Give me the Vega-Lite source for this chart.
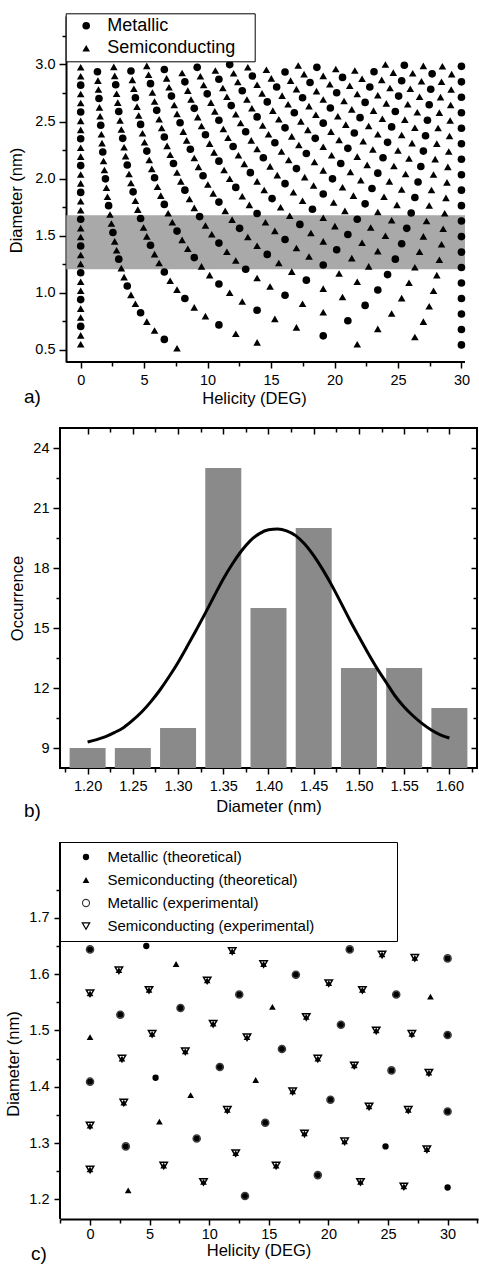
{
"$schema": "https://vega.github.io/schema/vega-lite/v6.json",
"padding": {"left": 5, "top": 12, "right": 0, "bottom": 0},
"background": "white",
"bounds": "flush",
"spacing": 66,
"resolve": {"scale": {"shape": "independent", "fill": "independent", "stroke": "independent", "size": "independent"}, "legend": {"shape": "independent", "fill": "independent", "stroke": "independent", "size": "independent"}},
"config": {
 "font": "Liberation Sans",
 "view": {"stroke": null},
 "axis": {"labelFont": "Liberation Sans", "labelFontSize": 14.5, "labelColor": "black", "titleFont": "Liberation Sans", "titleFontSize": 16.5, "titleFontWeight": "normal", "titleColor": "black", "domainColor": "black", "domainWidth": 2, "tickColor": "black", "tickWidth": 1.5, "grid": false, "labelFlush": false, "labelOverlap": false}
},
"datasets": {
 "band": [{"lo": 1.205, "hi": 1.68}],
 "bars": [{"dia":1.2,"n":9},{"dia":1.25,"n":9},{"dia":1.3,"n":10},{"dia":1.35,"n":23},{"dia":1.4,"n":16},{"dia":1.45,"n":20},{"dia":1.5,"n":13},{"dia":1.55,"n":13},{"dia":1.6,"n":11}],
 "fit": [{"dia":1.2,"n":9.3},{"dia":1.21,"n":9.42},{"dia":1.22,"n":9.57},{"dia":1.23,"n":9.78},{"dia":1.24,"n":10.03},{"dia":1.25,"n":10.39},{"dia":1.26,"n":10.81},{"dia":1.27,"n":11.32},{"dia":1.28,"n":11.9},{"dia":1.29,"n":12.56},{"dia":1.3,"n":13.28},{"dia":1.31,"n":14.07},{"dia":1.32,"n":14.89},{"dia":1.33,"n":15.73},{"dia":1.34,"n":16.6},{"dia":1.35,"n":17.45},{"dia":1.36,"n":18.2},{"dia":1.37,"n":18.85},{"dia":1.38,"n":19.37},{"dia":1.39,"n":19.72},{"dia":1.4,"n":19.91},{"dia":1.41,"n":19.95},{"dia":1.42,"n":19.86},{"dia":1.43,"n":19.62},{"dia":1.44,"n":19.2},{"dia":1.45,"n":18.62},{"dia":1.46,"n":17.92},{"dia":1.47,"n":17.13},{"dia":1.48,"n":16.27},{"dia":1.49,"n":15.39},{"dia":1.5,"n":14.56},{"dia":1.51,"n":13.75},{"dia":1.52,"n":12.98},{"dia":1.53,"n":12.29},{"dia":1.54,"n":11.6},{"dia":1.55,"n":11.05},{"dia":1.56,"n":10.6},{"dia":1.57,"n":10.22},{"dia":1.58,"n":9.9},{"dia":1.59,"n":9.66},{"dia":1.6,"n":9.5}],
 "pa": [
{"h":0,"d":0.548,"t":"S"},{"h":0,"d":0.626,"t":"S"},{"h":0,"d":0.705,"t":"M"},{"h":0,"d":0.783,"t":"S"},{"h":0,"d":0.861,"t":"S"},{"h":0,"d":0.94,"t":"M"},{"h":0,"d":1.018,"t":"S"},{"h":0,"d":1.096,"t":"S"},{"h":0,"d":1.175,"t":"M"},{"h":0,"d":1.253,"t":"S"},{"h":0,"d":1.331,"t":"S"},{"h":0,"d":1.409,"t":"M"},{"h":0,"d":1.488,"t":"S"},{"h":0,"d":1.566,"t":"S"},{"h":0,"d":1.644,"t":"M"},{"h":0,"d":1.723,"t":"S"},{"h":0,"d":1.801,"t":"S"},{"h":0,"d":1.879,"t":"M"},{"h":0,"d":1.958,"t":"S"},{"h":0,"d":2.036,"t":"S"},{"h":0,"d":2.114,"t":"M"},{"h":0,"d":2.193,"t":"S"},{"h":0,"d":2.271,"t":"S"},{"h":0,"d":2.349,"t":"M"},{"h":0,"d":2.427,"t":"S"},{"h":0,"d":2.506,"t":"S"},{"h":0,"d":2.584,"t":"M"},{"h":0,"d":2.662,"t":"S"},{"h":0,"d":2.741,"t":"S"},{"h":0,"d":2.819,"t":"M"},{"h":0,"d":2.897,"t":"S"},{"h":0,"d":2.976,"t":"S"},
{"h":7.59,"d":0.514,"t":"S"},{"h":6.59,"d":0.591,"t":"M"},{"h":5.82,"d":0.669,"t":"S"},{"h":5.21,"d":0.747,"t":"S"},{"h":4.72,"d":0.825,"t":"M"},{"h":4.31,"d":0.903,"t":"S"},{"h":3.96,"d":0.981,"t":"S"},{"h":3.67,"d":1.059,"t":"M"},{"h":3.42,"d":1.137,"t":"S"},{"h":3.2,"d":1.216,"t":"S"},{"h":3,"d":1.294,"t":"M"},{"h":2.83,"d":1.372,"t":"S"},{"h":2.68,"d":1.45,"t":"S"},{"h":2.54,"d":1.528,"t":"M"},{"h":2.42,"d":1.607,"t":"S"},{"h":2.31,"d":1.685,"t":"S"},{"h":2.2,"d":1.763,"t":"M"},{"h":2.11,"d":1.841,"t":"S"},{"h":2.03,"d":1.92,"t":"S"},{"h":1.95,"d":1.998,"t":"M"},{"h":1.87,"d":2.076,"t":"S"},{"h":1.8,"d":2.154,"t":"S"},{"h":1.74,"d":2.233,"t":"M"},{"h":1.68,"d":2.311,"t":"S"},{"h":1.63,"d":2.389,"t":"S"},{"h":1.58,"d":2.468,"t":"M"},{"h":1.53,"d":2.546,"t":"S"},{"h":1.48,"d":2.624,"t":"S"},{"h":1.44,"d":2.702,"t":"M"},{"h":1.4,"d":2.781,"t":"S"},{"h":1.36,"d":2.859,"t":"S"},{"h":1.32,"d":2.937,"t":"M"},
{"h":13.9,"d":0.565,"t":"S"},{"h":12.22,"d":0.641,"t":"S"},{"h":10.89,"d":0.718,"t":"M"},{"h":9.83,"d":0.795,"t":"S"},{"h":8.95,"d":0.872,"t":"S"},{"h":8.21,"d":0.949,"t":"M"},{"h":7.59,"d":1.027,"t":"S"},{"h":7.05,"d":1.105,"t":"S"},{"h":6.59,"d":1.182,"t":"M"},{"h":6.18,"d":1.26,"t":"S"},{"h":5.82,"d":1.338,"t":"S"},{"h":5.5,"d":1.416,"t":"M"},{"h":5.21,"d":1.494,"t":"S"},{"h":4.95,"d":1.572,"t":"S"},{"h":4.72,"d":1.65,"t":"M"},{"h":4.5,"d":1.728,"t":"S"},{"h":4.31,"d":1.806,"t":"S"},{"h":4.13,"d":1.884,"t":"M"},{"h":3.96,"d":1.962,"t":"S"},{"h":3.81,"d":2.04,"t":"S"},{"h":3.67,"d":2.119,"t":"M"},{"h":3.54,"d":2.197,"t":"S"},{"h":3.42,"d":2.275,"t":"S"},{"h":3.31,"d":2.353,"t":"M"},{"h":3.2,"d":2.431,"t":"S"},{"h":3.1,"d":2.509,"t":"S"},{"h":3,"d":2.588,"t":"M"},{"h":2.92,"d":2.666,"t":"S"},{"h":2.83,"d":2.744,"t":"S"},{"h":2.76,"d":2.822,"t":"M"},{"h":2.68,"d":2.9,"t":"S"},{"h":2.61,"d":2.979,"t":"S"},
{"h":21.79,"d":0.548,"t":"S"},{"h":19.11,"d":0.622,"t":"M"},{"h":17,"d":0.696,"t":"S"},{"h":15.3,"d":0.771,"t":"S"},{"h":13.9,"d":0.847,"t":"M"},{"h":12.73,"d":0.923,"t":"S"},{"h":11.74,"d":1.0,"t":"S"},{"h":10.89,"d":1.077,"t":"M"},{"h":10.16,"d":1.154,"t":"S"},{"h":9.52,"d":1.231,"t":"S"},{"h":8.95,"d":1.308,"t":"M"},{"h":8.44,"d":1.385,"t":"S"},{"h":7.99,"d":1.463,"t":"S"},{"h":7.59,"d":1.54,"t":"M"},{"h":7.22,"d":1.618,"t":"S"},{"h":6.89,"d":1.696,"t":"S"},{"h":6.59,"d":1.774,"t":"M"},{"h":6.31,"d":1.851,"t":"S"},{"h":6.05,"d":1.929,"t":"S"},{"h":5.82,"d":2.007,"t":"M"},{"h":5.6,"d":2.085,"t":"S"},{"h":5.4,"d":2.163,"t":"S"},{"h":5.21,"d":2.241,"t":"M"},{"h":5.03,"d":2.319,"t":"S"},{"h":4.87,"d":2.397,"t":"S"},{"h":4.72,"d":2.475,"t":"M"},{"h":4.57,"d":2.553,"t":"S"},{"h":4.44,"d":2.631,"t":"S"},{"h":4.31,"d":2.709,"t":"M"},{"h":4.19,"d":2.787,"t":"S"},{"h":4.07,"d":2.865,"t":"S"},{"h":3.96,"d":2.943,"t":"M"},
{"h":30,"d":0.543,"t":"M"},{"h":26.33,"d":0.612,"t":"S"},{"h":23.41,"d":0.683,"t":"S"},{"h":21.05,"d":0.755,"t":"M"},{"h":19.11,"d":0.829,"t":"S"},{"h":17.48,"d":0.903,"t":"S"},{"h":16.1,"d":0.978,"t":"M"},{"h":14.92,"d":1.054,"t":"S"},{"h":13.9,"d":1.129,"t":"S"},{"h":13,"d":1.206,"t":"M"},{"h":12.22,"d":1.282,"t":"S"},{"h":11.52,"d":1.359,"t":"S"},{"h":10.89,"d":1.435,"t":"M"},{"h":10.33,"d":1.512,"t":"S"},{"h":9.83,"d":1.589,"t":"S"},{"h":9.37,"d":1.667,"t":"M"},{"h":8.95,"d":1.744,"t":"S"},{"h":8.57,"d":1.821,"t":"S"},{"h":8.21,"d":1.899,"t":"M"},{"h":7.89,"d":1.976,"t":"S"},{"h":7.59,"d":2.054,"t":"S"},{"h":7.31,"d":2.132,"t":"M"},{"h":7.05,"d":2.209,"t":"S"},{"h":6.81,"d":2.287,"t":"S"},{"h":6.59,"d":2.365,"t":"M"},{"h":6.38,"d":2.443,"t":"S"},{"h":6.18,"d":2.52,"t":"S"},{"h":5.99,"d":2.598,"t":"M"},{"h":5.82,"d":2.676,"t":"S"},{"h":5.65,"d":2.754,"t":"S"},{"h":5.5,"d":2.832,"t":"M"},{"h":5.35,"d":2.91,"t":"S"},{"h":5.21,"d":2.988,"t":"S"},
{"h":30,"d":0.678,"t":"M"},{"h":27,"d":0.747,"t":"S"},{"h":24.5,"d":0.818,"t":"S"},{"h":22.41,"d":0.889,"t":"M"},{"h":20.63,"d":0.962,"t":"S"},{"h":19.11,"d":1.036,"t":"S"},{"h":17.78,"d":1.11,"t":"M"},{"h":16.63,"d":1.185,"t":"S"},{"h":15.61,"d":1.26,"t":"S"},{"h":14.7,"d":1.336,"t":"M"},{"h":13.9,"d":1.412,"t":"S"},{"h":13.17,"d":1.488,"t":"S"},{"h":12.52,"d":1.564,"t":"M"},{"h":11.93,"d":1.641,"t":"S"},{"h":11.39,"d":1.717,"t":"S"},{"h":10.89,"d":1.794,"t":"M"},{"h":10.44,"d":1.871,"t":"S"},{"h":10.02,"d":1.948,"t":"S"},{"h":9.64,"d":2.025,"t":"M"},{"h":9.28,"d":2.103,"t":"S"},{"h":8.95,"d":2.18,"t":"S"},{"h":8.64,"d":2.257,"t":"M"},{"h":8.35,"d":2.335,"t":"S"},{"h":8.08,"d":2.412,"t":"S"},{"h":7.83,"d":2.49,"t":"M"},{"h":7.59,"d":2.567,"t":"S"},{"h":7.37,"d":2.645,"t":"S"},{"h":7.15,"d":2.723,"t":"M"},{"h":6.96,"d":2.8,"t":"S"},{"h":6.77,"d":2.878,"t":"S"},{"h":6.59,"d":2.956,"t":"M"},
{"h":30,"d":0.814,"t":"M"},{"h":27.46,"d":0.882,"t":"S"},{"h":25.29,"d":0.953,"t":"S"},{"h":23.41,"d":1.024,"t":"M"},{"h":21.79,"d":1.096,"t":"S"},{"h":20.36,"d":1.169,"t":"S"},{"h":19.11,"d":1.243,"t":"M"},{"h":17.99,"d":1.317,"t":"S"},{"h":17,"d":1.392,"t":"S"},{"h":16.1,"d":1.467,"t":"M"},{"h":15.3,"d":1.542,"t":"S"},{"h":14.56,"d":1.618,"t":"S"},{"h":13.9,"d":1.694,"t":"M"},{"h":13.29,"d":1.77,"t":"S"},{"h":12.73,"d":1.846,"t":"S"},{"h":12.22,"d":1.923,"t":"M"},{"h":11.74,"d":1.999,"t":"S"},{"h":11.3,"d":2.076,"t":"S"},{"h":10.89,"d":2.153,"t":"M"},{"h":10.51,"d":2.23,"t":"S"},{"h":10.16,"d":2.307,"t":"S"},{"h":9.83,"d":2.384,"t":"M"},{"h":9.52,"d":2.461,"t":"S"},{"h":9.22,"d":2.539,"t":"S"},{"h":8.95,"d":2.616,"t":"M"},{"h":8.69,"d":2.693,"t":"S"},{"h":8.44,"d":2.771,"t":"S"},{"h":8.21,"d":2.848,"t":"M"},{"h":7.99,"d":2.926,"t":"S"},
{"h":30,"d":0.949,"t":"M"},{"h":27.8,"d":1.018,"t":"S"},{"h":25.87,"d":1.088,"t":"S"},{"h":24.18,"d":1.159,"t":"M"},{"h":22.69,"d":1.231,"t":"S"},{"h":21.36,"d":1.303,"t":"S"},{"h":20.17,"d":1.377,"t":"M"},{"h":19.11,"d":1.45,"t":"S"},{"h":18.14,"d":1.524,"t":"S"},{"h":17.27,"d":1.599,"t":"M"},{"h":16.47,"d":1.674,"t":"S"},{"h":15.75,"d":1.749,"t":"S"},{"h":15.08,"d":1.825,"t":"M"},{"h":14.46,"d":1.9,"t":"S"},{"h":13.9,"d":1.976,"t":"S"},{"h":13.37,"d":2.052,"t":"M"},{"h":12.89,"d":2.129,"t":"S"},{"h":12.43,"d":2.205,"t":"S"},{"h":12.01,"d":2.282,"t":"M"},{"h":11.61,"d":2.358,"t":"S"},{"h":11.24,"d":2.435,"t":"S"},{"h":10.89,"d":2.512,"t":"M"},{"h":10.57,"d":2.589,"t":"S"},{"h":10.26,"d":2.666,"t":"S"},{"h":9.97,"d":2.743,"t":"M"},{"h":9.69,"d":2.82,"t":"S"},{"h":9.43,"d":2.897,"t":"S"},{"h":9.18,"d":2.975,"t":"M"},
{"h":30,"d":1.085,"t":"M"},{"h":28.06,"d":1.154,"t":"S"},{"h":26.33,"d":1.223,"t":"S"},{"h":24.79,"d":1.294,"t":"M"},{"h":23.41,"d":1.365,"t":"S"},{"h":22.17,"d":1.438,"t":"S"},{"h":21.05,"d":1.51,"t":"M"},{"h":20.03,"d":1.584,"t":"S"},{"h":19.11,"d":1.657,"t":"S"},{"h":18.26,"d":1.732,"t":"M"},{"h":17.48,"d":1.806,"t":"S"},{"h":16.76,"d":1.881,"t":"S"},{"h":16.1,"d":1.956,"t":"M"},{"h":15.49,"d":2.031,"t":"S"},{"h":14.92,"d":2.107,"t":"S"},{"h":14.39,"d":2.183,"t":"M"},{"h":13.9,"d":2.259,"t":"S"},{"h":13.44,"d":2.335,"t":"S"},{"h":13,"d":2.411,"t":"M"},{"h":12.6,"d":2.487,"t":"S"},{"h":12.22,"d":2.564,"t":"S"},{"h":11.86,"d":2.64,"t":"M"},{"h":11.52,"d":2.717,"t":"S"},{"h":11.2,"d":2.794,"t":"S"},{"h":10.89,"d":2.871,"t":"M"},{"h":10.61,"d":2.948,"t":"S"},
{"h":30,"d":1.221,"t":"M"},{"h":28.26,"d":1.289,"t":"S"},{"h":26.7,"d":1.359,"t":"S"},{"h":25.29,"d":1.429,"t":"M"},{"h":24.01,"d":1.5,"t":"S"},{"h":22.85,"d":1.572,"t":"S"},{"h":21.79,"d":1.644,"t":"M"},{"h":20.82,"d":1.717,"t":"S"},{"h":19.93,"d":1.791,"t":"S"},{"h":19.11,"d":1.865,"t":"M"},{"h":18.35,"d":1.939,"t":"S"},{"h":17.65,"d":2.013,"t":"S"},{"h":17,"d":2.088,"t":"M"},{"h":16.39,"d":2.163,"t":"S"},{"h":15.82,"d":2.238,"t":"S"},{"h":15.3,"d":2.314,"t":"M"},{"h":14.8,"d":2.389,"t":"S"},{"h":14.34,"d":2.465,"t":"S"},{"h":13.9,"d":2.541,"t":"M"},{"h":13.49,"d":2.617,"t":"S"},{"h":13.1,"d":2.693,"t":"S"},{"h":12.73,"d":2.77,"t":"M"},{"h":12.38,"d":2.846,"t":"S"},{"h":12.05,"d":2.923,"t":"S"},{"h":11.74,"d":2.999,"t":"M"},
{"h":30,"d":1.356,"t":"M"},{"h":28.43,"d":1.425,"t":"S"},{"h":27,"d":1.494,"t":"S"},{"h":25.69,"d":1.564,"t":"M"},{"h":24.5,"d":1.635,"t":"S"},{"h":23.41,"d":1.707,"t":"S"},{"h":22.41,"d":1.779,"t":"M"},{"h":21.49,"d":1.851,"t":"S"},{"h":20.63,"d":1.924,"t":"S"},{"h":19.84,"d":1.998,"t":"M"},{"h":19.11,"d":2.072,"t":"S"},{"h":18.42,"d":2.146,"t":"S"},{"h":17.78,"d":2.22,"t":"M"},{"h":17.19,"d":2.295,"t":"S"},{"h":16.63,"d":2.37,"t":"S"},{"h":16.1,"d":2.445,"t":"M"},{"h":15.61,"d":2.52,"t":"S"},{"h":15.14,"d":2.596,"t":"S"},{"h":14.7,"d":2.672,"t":"M"},{"h":14.29,"d":2.747,"t":"S"},{"h":13.9,"d":2.823,"t":"S"},{"h":13.53,"d":2.899,"t":"M"},{"h":13.17,"d":2.976,"t":"S"},
{"h":30,"d":1.492,"t":"M"},{"h":28.56,"d":1.56,"t":"S"},{"h":27.25,"d":1.629,"t":"S"},{"h":26.04,"d":1.699,"t":"M"},{"h":24.92,"d":1.77,"t":"S"},{"h":23.9,"d":1.841,"t":"S"},{"h":22.95,"d":1.913,"t":"M"},{"h":22.07,"d":1.986,"t":"S"},{"h":21.25,"d":2.058,"t":"S"},{"h":20.49,"d":2.132,"t":"M"},{"h":19.77,"d":2.205,"t":"S"},{"h":19.11,"d":2.279,"t":"S"},{"h":18.48,"d":2.353,"t":"M"},{"h":17.9,"d":2.427,"t":"S"},{"h":17.35,"d":2.502,"t":"S"},{"h":16.83,"d":2.577,"t":"M"},{"h":16.34,"d":2.652,"t":"S"},{"h":15.87,"d":2.727,"t":"S"},{"h":15.44,"d":2.803,"t":"M"},{"h":15.02,"d":2.878,"t":"S"},{"h":14.63,"d":2.954,"t":"S"},
{"h":30,"d":1.628,"t":"M"},{"h":28.68,"d":1.696,"t":"S"},{"h":27.46,"d":1.765,"t":"S"},{"h":26.33,"d":1.835,"t":"M"},{"h":25.29,"d":1.905,"t":"S"},{"h":24.32,"d":1.976,"t":"S"},{"h":23.41,"d":2.048,"t":"M"},{"h":22.57,"d":2.12,"t":"S"},{"h":21.79,"d":2.193,"t":"S"},{"h":21.05,"d":2.265,"t":"M"},{"h":20.36,"d":2.339,"t":"S"},{"h":19.72,"d":2.412,"t":"S"},{"h":19.11,"d":2.486,"t":"M"},{"h":18.53,"d":2.56,"t":"S"},{"h":17.99,"d":2.635,"t":"S"},{"h":17.48,"d":2.709,"t":"M"},{"h":17,"d":2.784,"t":"S"},{"h":16.54,"d":2.859,"t":"S"},{"h":16.1,"d":2.934,"t":"M"},
{"h":30,"d":1.763,"t":"M"},{"h":28.78,"d":1.831,"t":"S"},{"h":27.64,"d":1.9,"t":"S"},{"h":26.58,"d":1.97,"t":"M"},{"h":25.6,"d":2.04,"t":"S"},{"h":24.68,"d":2.111,"t":"S"},{"h":23.82,"d":2.183,"t":"M"},{"h":23.02,"d":2.255,"t":"S"},{"h":22.26,"d":2.327,"t":"S"},{"h":21.56,"d":2.4,"t":"M"},{"h":20.89,"d":2.473,"t":"S"},{"h":20.26,"d":2.546,"t":"S"},{"h":19.67,"d":2.619,"t":"M"},{"h":19.11,"d":2.693,"t":"S"},{"h":18.58,"d":2.767,"t":"S"},{"h":18.07,"d":2.842,"t":"M"},{"h":17.6,"d":2.916,"t":"S"},{"h":17.14,"d":2.991,"t":"S"},
{"h":30,"d":1.899,"t":"M"},{"h":28.86,"d":1.967,"t":"S"},{"h":27.8,"d":2.036,"t":"S"},{"h":26.8,"d":2.106,"t":"M"},{"h":25.87,"d":2.176,"t":"S"},{"h":25,"d":2.246,"t":"S"},{"h":24.18,"d":2.318,"t":"M"},{"h":23.41,"d":2.389,"t":"S"},{"h":22.69,"d":2.461,"t":"S"},{"h":22.01,"d":2.534,"t":"M"},{"h":21.36,"d":2.607,"t":"S"},{"h":20.75,"d":2.68,"t":"S"},{"h":20.17,"d":2.753,"t":"M"},{"h":19.63,"d":2.827,"t":"S"},{"h":19.11,"d":2.9,"t":"S"},{"h":18.61,"d":2.975,"t":"M"},
{"h":30,"d":2.034,"t":"M"},{"h":28.93,"d":2.103,"t":"S"},{"h":27.93,"d":2.171,"t":"S"},{"h":27,"d":2.241,"t":"M"},{"h":26.11,"d":2.311,"t":"S"},{"h":25.29,"d":2.382,"t":"S"},{"h":24.5,"d":2.453,"t":"M"},{"h":23.77,"d":2.524,"t":"S"},{"h":23.07,"d":2.596,"t":"S"},{"h":22.41,"d":2.668,"t":"M"},{"h":21.79,"d":2.741,"t":"S"},{"h":21.2,"d":2.814,"t":"S"},{"h":20.63,"d":2.887,"t":"M"},{"h":20.1,"d":2.96,"t":"S"},
{"h":30,"d":2.17,"t":"M"},{"h":29,"d":2.238,"t":"S"},{"h":28.06,"d":2.307,"t":"S"},{"h":27.17,"d":2.376,"t":"M"},{"h":26.33,"d":2.446,"t":"S"},{"h":25.54,"d":2.517,"t":"S"},{"h":24.79,"d":2.588,"t":"M"},{"h":24.08,"d":2.659,"t":"S"},{"h":23.41,"d":2.731,"t":"S"},{"h":22.78,"d":2.803,"t":"M"},{"h":22.17,"d":2.875,"t":"S"},{"h":21.6,"d":2.948,"t":"S"},
{"h":30,"d":2.306,"t":"M"},{"h":29.06,"d":2.374,"t":"S"},{"h":28.16,"d":2.443,"t":"S"},{"h":27.32,"d":2.512,"t":"M"},{"h":26.52,"d":2.582,"t":"S"},{"h":25.77,"d":2.652,"t":"S"},{"h":25.05,"d":2.723,"t":"M"},{"h":24.37,"d":2.794,"t":"S"},{"h":23.72,"d":2.865,"t":"S"},{"h":23.11,"d":2.937,"t":"M"},
{"h":30,"d":2.441,"t":"M"},{"h":29.11,"d":2.509,"t":"S"},{"h":28.26,"d":2.578,"t":"S"},{"h":27.46,"d":2.647,"t":"M"},{"h":26.7,"d":2.717,"t":"S"},{"h":25.97,"d":2.787,"t":"S"},{"h":25.29,"d":2.858,"t":"M"},{"h":24.63,"d":2.929,"t":"S"},{"h":24.01,"d":3.0,"t":"S"},
{"h":30,"d":2.577,"t":"M"},{"h":29.15,"d":2.645,"t":"S"},{"h":28.35,"d":2.714,"t":"S"},{"h":27.58,"d":2.783,"t":"M"},{"h":26.85,"d":2.853,"t":"S"},{"h":26.16,"d":2.923,"t":"S"},{"h":25.5,"d":2.993,"t":"M"},
{"h":30,"d":2.713,"t":"M"},{"h":29.19,"d":2.781,"t":"S"},{"h":28.43,"d":2.849,"t":"S"},{"h":27.69,"d":2.918,"t":"M"},{"h":27,"d":2.988,"t":"S"},
{"h":30,"d":2.848,"t":"M"},{"h":29.23,"d":2.916,"t":"S"},{"h":28.5,"d":2.985,"t":"S"},
{"h":30,"d":2.984,"t":"M"}
 ],
 "pc": [
{"h":0,"d":1.253,"c":"ST"},{"h":0,"d":1.331,"c":"ST"},{"h":0,"d":1.409,"c":"MT"},{"h":0,"d":1.488,"c":"ST"},{"h":0,"d":1.566,"c":"ST"},{"h":0,"d":1.644,"c":"MT"},
{"h":3.2,"d":1.216,"c":"ST"},{"h":3,"d":1.294,"c":"MT"},{"h":2.83,"d":1.372,"c":"ST"},{"h":2.68,"d":1.45,"c":"ST"},{"h":2.54,"d":1.528,"c":"MT"},{"h":2.42,"d":1.607,"c":"ST"},
{"h":6.18,"d":1.26,"c":"ST"},{"h":5.82,"d":1.338,"c":"ST"},{"h":5.5,"d":1.416,"c":"MT"},{"h":5.21,"d":1.494,"c":"ST"},{"h":4.95,"d":1.572,"c":"ST"},{"h":4.72,"d":1.65,"c":"MT"},
{"h":9.52,"d":1.231,"c":"ST"},{"h":8.95,"d":1.308,"c":"MT"},{"h":8.44,"d":1.385,"c":"ST"},{"h":7.99,"d":1.463,"c":"ST"},{"h":7.59,"d":1.54,"c":"MT"},{"h":7.22,"d":1.618,"c":"ST"},
{"h":13,"d":1.206,"c":"MT"},{"h":12.22,"d":1.282,"c":"ST"},{"h":11.52,"d":1.359,"c":"ST"},{"h":10.89,"d":1.435,"c":"MT"},{"h":10.33,"d":1.512,"c":"ST"},{"h":9.83,"d":1.589,"c":"ST"},
{"h":15.61,"d":1.26,"c":"ST"},{"h":14.7,"d":1.336,"c":"MT"},{"h":13.9,"d":1.412,"c":"ST"},{"h":13.17,"d":1.488,"c":"ST"},{"h":12.52,"d":1.564,"c":"MT"},{"h":11.93,"d":1.641,"c":"ST"},
{"h":19.11,"d":1.243,"c":"MT"},{"h":17.99,"d":1.317,"c":"ST"},{"h":17,"d":1.392,"c":"ST"},{"h":16.1,"d":1.467,"c":"MT"},{"h":15.3,"d":1.542,"c":"ST"},{"h":14.56,"d":1.618,"c":"ST"},
{"h":22.69,"d":1.231,"c":"ST"},{"h":21.36,"d":1.303,"c":"ST"},{"h":20.17,"d":1.377,"c":"MT"},{"h":19.11,"d":1.45,"c":"ST"},{"h":18.14,"d":1.524,"c":"ST"},{"h":17.27,"d":1.599,"c":"MT"},
{"h":26.33,"d":1.223,"c":"ST"},{"h":24.79,"d":1.294,"c":"MT"},{"h":23.41,"d":1.365,"c":"ST"},{"h":22.17,"d":1.438,"c":"ST"},{"h":21.05,"d":1.51,"c":"MT"},{"h":20.03,"d":1.584,"c":"ST"},
{"h":30,"d":1.221,"c":"MT"},{"h":28.26,"d":1.289,"c":"ST"},{"h":26.7,"d":1.359,"c":"ST"},{"h":25.29,"d":1.429,"c":"MT"},{"h":24.01,"d":1.5,"c":"ST"},{"h":22.85,"d":1.572,"c":"ST"},{"h":21.79,"d":1.644,"c":"MT"},
{"h":30,"d":1.356,"c":"MT"},{"h":28.43,"d":1.425,"c":"ST"},{"h":27,"d":1.494,"c":"ST"},{"h":25.69,"d":1.564,"c":"MT"},{"h":24.5,"d":1.635,"c":"ST"},
{"h":30,"d":1.492,"c":"MT"},{"h":28.56,"d":1.56,"c":"ST"},{"h":27.25,"d":1.629,"c":"ST"},
{"h":30,"d":1.628,"c":"MT"},
{"h":0,"d":1.253,"c":"SE"},{"h":0,"d":1.331,"c":"SE"},{"h":0,"d":1.409,"c":"ME"},{"h":0,"d":1.566,"c":"SE"},{"h":0,"d":1.644,"c":"ME"},
{"h":3,"d":1.294,"c":"ME"},{"h":2.83,"d":1.372,"c":"SE"},{"h":2.68,"d":1.45,"c":"SE"},{"h":2.54,"d":1.528,"c":"ME"},{"h":2.42,"d":1.607,"c":"SE"},
{"h":6.18,"d":1.26,"c":"SE"},{"h":5.21,"d":1.494,"c":"SE"},{"h":4.95,"d":1.572,"c":"SE"},
{"h":9.52,"d":1.231,"c":"SE"},{"h":8.95,"d":1.308,"c":"ME"},{"h":7.99,"d":1.463,"c":"SE"},{"h":7.59,"d":1.54,"c":"ME"},
{"h":13,"d":1.206,"c":"ME"},{"h":12.22,"d":1.282,"c":"SE"},{"h":11.52,"d":1.359,"c":"SE"},{"h":10.89,"d":1.435,"c":"ME"},{"h":10.33,"d":1.512,"c":"SE"},{"h":9.83,"d":1.589,"c":"SE"},
{"h":15.61,"d":1.26,"c":"SE"},{"h":14.7,"d":1.336,"c":"ME"},{"h":13.17,"d":1.488,"c":"SE"},{"h":12.52,"d":1.564,"c":"ME"},{"h":11.93,"d":1.641,"c":"SE"},
{"h":19.11,"d":1.243,"c":"ME"},{"h":17.99,"d":1.317,"c":"SE"},{"h":17,"d":1.392,"c":"SE"},{"h":16.1,"d":1.467,"c":"ME"},{"h":14.56,"d":1.618,"c":"SE"},
{"h":22.69,"d":1.231,"c":"SE"},{"h":21.36,"d":1.303,"c":"SE"},{"h":20.17,"d":1.377,"c":"ME"},{"h":19.11,"d":1.45,"c":"SE"},{"h":18.14,"d":1.524,"c":"SE"},{"h":17.27,"d":1.599,"c":"ME"},
{"h":26.33,"d":1.223,"c":"SE"},{"h":23.41,"d":1.365,"c":"SE"},{"h":22.17,"d":1.438,"c":"SE"},{"h":21.05,"d":1.51,"c":"ME"},{"h":20.03,"d":1.584,"c":"SE"},
{"h":28.26,"d":1.289,"c":"SE"},{"h":26.7,"d":1.359,"c":"SE"},{"h":25.29,"d":1.429,"c":"ME"},{"h":24.01,"d":1.5,"c":"SE"},{"h":22.85,"d":1.572,"c":"SE"},{"h":21.79,"d":1.644,"c":"ME"},
{"h":30,"d":1.356,"c":"ME"},{"h":28.43,"d":1.425,"c":"SE"},{"h":27,"d":1.494,"c":"SE"},{"h":25.69,"d":1.564,"c":"ME"},{"h":24.5,"d":1.635,"c":"SE"},
{"h":30,"d":1.492,"c":"ME"},{"h":27.25,"d":1.629,"c":"SE"},
{"h":30,"d":1.628,"c":"ME"}
 ]
},
"vconcat": [
 {
  "width": 405, "height": 346,
  "title": {"text": "a)", "orient": "bottom", "anchor": "start", "frame": "group", "dx": -36, "dy": -23, "fontSize": 19, "fontWeight": "normal", "font": "Liberation Sans", "color": "black"},
  "resolve": {"axis": {"x": "independent", "y": "independent"}},
  "layer": [
   {"data": {"name": "band"}, "mark": {"type": "rect", "color": "#a9a9a9"},
    "encoding": {
     "x": {"datum": -1.13, "type": "quantitative", "scale": {"domain": [-1.63, 30.28]}, "axis": null},
     "x2": {"datum": 30.28},
     "y": {"field": "lo", "type": "quantitative", "scale": {"domain": [0.393, 3.425]}, "axis": null},
     "y2": {"field": "hi"}}},
   {"data": {"name": "band"}, "mark": {"type": "rule", "color": "black", "strokeWidth": 2},
    "encoding": {
     "x": {"datum": -1.13, "type": "quantitative", "scale": {"domain": [-1.63, 30.28]}, "axis": null},
     "x2": {"datum": 30.28},
     "y": {"datum": 0.393, "type": "quantitative", "scale": {"domain": [0.393, 3.425]}, "axis": null}}},
   {"data": {"name": "pa"}, "mark": {"type": "point", "filled": true, "color": "black", "opacity": 1, "size": 58},
    "encoding": {
     "x": {"field": "h", "type": "quantitative", "scale": {"domain": [-1.63, 30.28]},
       "axis": {"orient": "bottom", "values": [0,5,10,15,20,25,30], "domain": false, "tickSize": 6, "labelPadding": 5, "title": "Helicity (DEG)", "titlePadding": 4, "titleX": 194, "titleAlign": "center"}},
     "y": {"field": "d", "type": "quantitative", "scale": {"domain": [0.393, 3.425]},
       "axis": {"orient": "left", "offset": -6, "values": [0.5,1,1.5,2,2.5,3], "format": ".1f", "domain": true, "tickSize": 7, "labelPadding": 4, "title": "Diameter (nm)", "titlePadding": 10, "titleY": 184, "titleAlign": "center"}},
     "shape": {"field": "t", "type": "nominal", "scale": {"domain": ["M","S"], "range": ["circle","triangle-up"]},
       "legend": {"orient": "none", "legendX": 5.7, "legendY": -2.7, "title": null, "strokeColor": "black", "fillColor": "white", "padding": 3.5, "rowPadding": 4.5, "clipHeight": 18, "labelFontSize": 18, "labelFont": "Liberation Sans", "labelColor": "black", "labelLimit": 400, "symbolOffset": 8, "labelOffset": 12, "symbolFillColor": "black", "symbolStrokeWidth": 0, "symbolSize": 58, "labelExpr": "datum.label == 'M' ? 'Metallic' : 'Semiconducting   \u200b'"}}}},
   {"data": {"name": "pa"}, "transform": [{"filter": "datum.h == 30 && datum.d < 0.6"}], "mark": {"type": "point", "opacity": 0},
    "encoding": {
     "x": {"field": "h", "type": "quantitative", "scale": {"domain": [-1.63, 30.28]},
       "axis": {"orient": "bottom", "values": [2.5,7.5,12.5,17.5,22.5,27.5], "labels": false, "domain": false, "tickSize": 4, "title": null}},
     "y": {"field": "d", "type": "quantitative", "scale": {"domain": [0.393, 3.425]},
       "axis": {"orient": "left", "offset": -6, "values": [0.75,1.25,1.75,2.25,2.75,3.25], "labels": false, "domain": false, "tickSize": 4, "title": null}}}}
  ]
 },
 {
  "width": 417, "height": 340,
  "view": {"stroke": "black", "strokeWidth": 2},
  "title": {"text": "b)", "orient": "bottom", "anchor": "start", "frame": "group", "dx": -36, "dy": -17, "fontSize": 19, "fontWeight": "normal", "font": "Liberation Sans", "color": "black"},
  "resolve": {"axis": {"x": "independent", "y": "independent"}},
  "layer": [
   {"data": {"name": "bars"}, "mark": {"type": "bar", "color": "#8a8a8a", "size": 36},
    "encoding": {
     "x": {"field": "dia", "type": "quantitative", "scale": {"domain": [1.175, 1.625]},
       "axis": {"orient": "bottom", "values": [1.2,1.25,1.3,1.35,1.4,1.45,1.5,1.55,1.6], "format": ".2f", "domain": false, "tickSize": 6, "labelPadding": 5, "title": "Diameter (nm)", "titlePadding": 6}},
     "y": {"field": "n", "type": "quantitative", "scale": {"domain": [8, 25], "zero": false},
       "axis": {"orient": "left", "values": [9,12,15,18,21,24], "domain": false, "tickSize": 7, "labelPadding": 4, "title": "Occurrence", "titlePadding": 7}},
     "y2": {"datum": 8}}},
   {"data": {"name": "fit"}, "mark": {"type": "line", "color": "black", "strokeWidth": 3, "interpolate": "monotone"},
    "encoding": {
     "x": {"field": "dia", "type": "quantitative", "scale": {"domain": [1.175, 1.625]},
       "axis": {"orient": "bottom", "values": [1.175,1.225,1.275,1.325,1.375,1.425,1.475,1.525,1.575,1.625], "labels": false, "domain": false, "tickSize": 4, "title": null}},
     "y": {"field": "n", "type": "quantitative", "scale": {"domain": [8, 25], "zero": false},
       "axis": {"orient": "left", "values": [10.5,13.5,16.5,19.5,22.5], "labels": false, "domain": false, "tickSize": 4, "title": null}}}},
   {"data": {"name": "bars"}, "mark": {"type": "point", "opacity": 0},
    "encoding": {
     "x": {"field": "dia", "type": "quantitative", "scale": {"domain": [1.175, 1.625]},
       "axis": {"orient": "top", "offset": -6, "values": [1.2,1.25,1.3,1.35,1.4,1.45,1.5,1.55,1.6], "labels": false, "domain": false, "tickSize": 6, "title": null}},
     "y": {"field": "n", "type": "quantitative", "scale": {"domain": [8, 25], "zero": false},
       "axis": {"orient": "right", "offset": -6, "values": [9,12,15,18,21,24], "labels": false, "domain": false, "tickSize": 6, "title": null}}}},
   {"data": {"name": "bars"}, "mark": {"type": "point", "opacity": 0},
    "encoding": {
     "x": {"field": "dia", "type": "quantitative", "scale": {"domain": [1.175, 1.625]},
       "axis": {"orient": "top", "offset": -4, "values": [1.225,1.275,1.325,1.375,1.425,1.475,1.525,1.575], "labels": false, "domain": false, "tickSize": 4, "title": null}},
     "y": {"field": "n", "type": "quantitative", "scale": {"domain": [8, 25], "zero": false},
       "axis": {"orient": "right", "offset": -4, "values": [10.5,13.5,16.5,19.5,22.5], "labels": false, "domain": false, "tickSize": 4, "title": null}}}}
  ]
 },
 {
  "width": 418, "height": 385,
  "title": {"text": "c)", "orient": "bottom", "anchor": "start", "frame": "group", "dx": -29, "dy": -18, "fontSize": 19, "fontWeight": "normal", "font": "Liberation Sans", "color": "black"},
  "resolve": {"axis": {"x": "independent", "y": "independent"}},
  "layer": [
   {"data": {"name": "pc"}, "transform": [{"filter": "datum.c == 'MT' && datum.h == 30 && datum.d < 1.3"}], "mark": {"type": "rule", "color": "black", "strokeWidth": 2},
    "encoding": {
     "x": {"datum": -2.52, "type": "quantitative", "scale": {"domain": [-2.52, 32.55]}, "axis": null},
     "y": {"datum": 1.165, "type": "quantitative", "scale": {"domain": [1.165, 1.849]}, "axis": null},
     "y2": {"datum": 1.835}}},
   {"data": {"name": "pc"}, "mark": {"type": "point", "opacity": 1, "strokeWidth": 1.5},
    "encoding": {
     "x": {"field": "h", "type": "quantitative", "scale": {"domain": [-2.52, 32.55]},
       "axis": {"orient": "bottom", "values": [0,5,10,15,20,25,30], "domain": true, "tickSize": 6, "labelPadding": 2, "title": "Helicity (DEG)", "titlePadding": 2, "titleX": 198.5, "titleAlign": "center"}},
     "y": {"field": "d", "type": "quantitative", "scale": {"domain": [1.165, 1.849]},
       "axis": {"orient": "left", "values": [1.2,1.3,1.4,1.5,1.6,1.7], "format": ".1f", "domain": false, "tickSize": 6, "labelPadding": 5, "title": "Diameter (nm)", "titlePadding": 7.7, "titleY": 229.5, "titleAlign": "center"}},
     "shape": {"field": "c", "type": "nominal", "scale": {"domain": ["MT","ST","ME","SE"], "range": ["circle","triangle-up","circle","triangle-down"]},
       "legend": {"orient": "none", "legendX": 0, "legendY": 8, "title": null, "strokeColor": "black", "fillColor": "white", "padding": 7, "rowPadding": 7, "clipHeight": 16, "labelFontSize": 15, "labelFont": "Liberation Sans", "labelColor": "black", "labelLimit": 500, "symbolOffset": 11.5, "labelOffset": 14, "symbolStrokeWidth": 1.2, "labelExpr": "(datum.label == 'MT' ? 'Metallic (theoretical)' : datum.label == 'ST' ? 'Semiconducting (theoretical)' : datum.label == 'ME' ? 'Metallic (experimental)' : 'Semiconducting (experimental)') + '                  \u200b'"}},
     "fill": {"field": "c", "type": "nominal", "scale": {"domain": ["MT","ST","ME","SE"], "range": ["black","black","transparent","transparent"]}},
     "stroke": {"field": "c", "type": "nominal", "scale": {"domain": ["MT","ST","ME","SE"], "range": ["transparent","transparent","#3c3c3c","black"]}},
     "size": {"field": "c", "type": "nominal", "scale": {"domain": ["MT","ST","ME","SE"], "range": [40,55,130,150]}}}},
   {"data": {"name": "pc"}, "transform": [{"filter": "datum.c == 'MT' && datum.h == 30 && datum.d < 1.3"}], "mark": {"type": "point", "opacity": 0},
    "encoding": {
     "x": {"field": "h", "type": "quantitative", "scale": {"domain": [-2.52, 32.55]},
       "axis": {"orient": "bottom", "values": [-2.5,2.5,7.5,12.5,17.5,22.5,27.5,32.5], "labels": false, "domain": false, "tickSize": 4, "title": null}},
     "y": {"field": "d", "type": "quantitative", "scale": {"domain": [1.165, 1.849]},
       "axis": {"orient": "left", "values": [1.25,1.35,1.45,1.55,1.65,1.75], "labels": false, "domain": false, "tickSize": 4, "title": null}}}}
  ]
 }
]
}
